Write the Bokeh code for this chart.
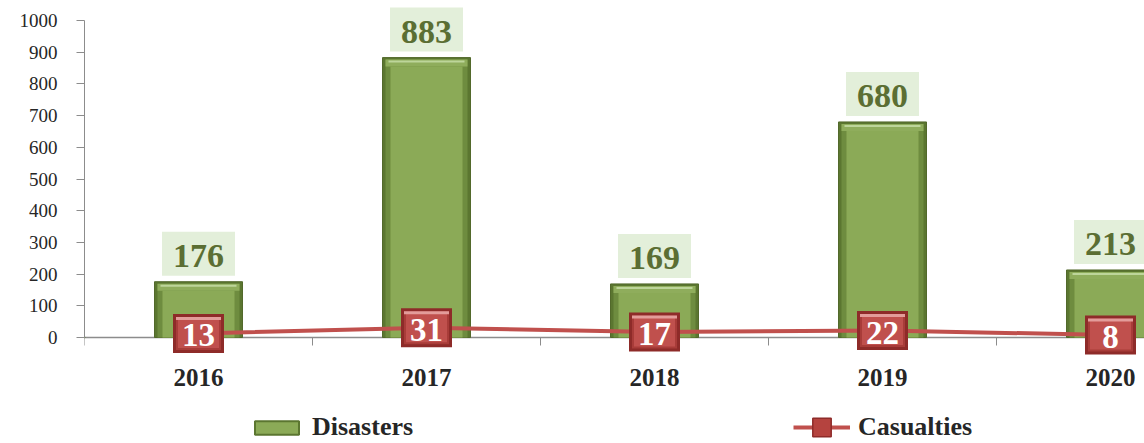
from bokeh.plotting import figure
from bokeh.models import Range1d, FixedTicker, Legend, LegendItem
from bokeh.core.properties import value
from bokeh.embed import file_html
from bokeh.resources import INLINE

# ---- data ----
categories = ["2016", "2017", "2018", "2019", "2020"]
disasters = [176, 883, 169, 680, 213]
casualties = [13, 31, 17, 22, 8]
y_ticks = [0, 100, 200, 300, 400, 500, 600, 700, 800, 900, 1000]
series_names = ["Disasters", "Casualties"]

# ---- geometry (styling) ----
W, H = 1144, 443
LEFT = 84
ZERO_PX = 337          # figure-y of value 0
PX_PER_UNIT = 0.317    # pixels per y unit
CAT_PX = 228           # pixels per category

y_end = ZERO_PX / PX_PER_UNIT
y_start = -(H - ZERO_PX) / PX_PER_UNIT
x_end = (W - LEFT) / CAT_PX


def py(px):
    return px / PX_PER_UNIT


def pxx(px):
    return px / CAT_PX


FONT_NAME = "'Liberation Serif', 'Times New Roman', serif"
FONT = value(FONT_NAME)
xs = [i + 0.5 for i in range(len(categories))]

p = figure(width=W, height=H, x_range=Range1d(0, x_end), y_range=Range1d(y_start, y_end),
           output_backend="svg", toolbar_location=None,
           min_border_left=LEFT, min_border_right=0, min_border_top=0, min_border_bottom=0)
p.outline_line_color = None
p.grid.visible = False
p.background_fill_color = "white"
p.border_fill_color = "white"

# ---- bars with bevel ----
bw = pxx(88)
p.vbar(x=xs, top=disasters, bottom=0, width=bw, fill_color="#5B7630", line_color="#52692B")
p.vbar(x=xs, top=[v - py(2) for v in disasters], bottom=0, width=bw - 2 * pxx(3),
       fill_color="#6E8C3F", line_color=None)
p.vbar(x=xs, top=[v - py(2) for v in disasters], bottom=[v - py(9) for v in disasters],
       width=bw - 2 * pxx(3), fill_color="#8FAD5C", line_color=None)
p.vbar(x=xs, top=[v - py(3) for v in disasters], bottom=[v - py(5) for v in disasters],
       width=bw - 2 * pxx(6), fill_color="#BDD59A", line_color=None)
p.vbar(x=xs, top=[v - py(9) for v in disasters], bottom=0, width=bw - 2 * pxx(8),
       fill_color="#8BAA57", line_color=None)

# ---- bar labels ----
lab_y = [v + py(28) for v in disasters]
p.rect(x=xs, y=lab_y, width=73, height=44, width_units="screen", height_units="screen",
       fill_color="#E3EFDA", line_color=None)
p.text(x=xs, y=lab_y, text=[str(v) for v in disasters], text_align="center",
       text_baseline="middle", y_offset=2, text_font=FONT, text_font_style="bold",
       text_font_size="34px", text_color="#5B6E33")

# ---- casualties line & markers ----
p.line(xs, casualties, line_color="#C0504D", line_width=4)
p.rect(x=xs, y=casualties, width=51, height=39, width_units="screen", height_units="screen",
       fill_color="#8E2B29", line_color=None)
p.rect(x=xs, y=casualties, width=45, height=33, width_units="screen", height_units="screen",
       fill_color="#A83C39", line_color=None)
p.rect(x=xs, y=casualties, width=41, height=29, width_units="screen", height_units="screen",
       fill_color="#C0504D", line_color=None)
p.rect(x=xs, y=[c + py(15) for c in casualties], width=45, height=3, width_units="screen",
       height_units="screen", fill_color="#E39C9A", line_color=None)
p.text(x=xs, y=casualties, text=[str(c) for c in casualties], text_align="center",
       text_baseline="middle", y_offset=2, text_font=FONT, text_font_style="bold",
       text_font_size="33px", text_color="white")

# ---- legends (dummy renderers outside visible range) ----
leg_bar = p.vbar(x=[-5], top=[1], width=0.3, fill_color="#8BAA57", line_color="#5B7630", line_width=2)
leg_line = p.line([-5, -4], [1, 1], line_color="#C0504D", line_width=4)
leg_sq = p.scatter([-5], [1], marker="square", size=19, fill_color="#B5433F",
                   line_color="#8E2B29", line_width=1.5)

common = dict(orientation="horizontal", label_standoff=8, margin=0, padding=0,
              border_line_color=None, background_fill_alpha=0,
              label_text_font=FONT_NAME, label_text_font_style="bold",
              label_text_font_size="26px", label_text_color="#262626")
legend1 = Legend(items=[LegendItem(label=series_names[0], renderers=[leg_bar])],
                 location=(165, 1), glyph_width=55, glyph_height=17, **common)
legend2 = Legend(items=[LegendItem(label=series_names[1], renderers=[leg_line, leg_sq])],
                 location=(709, -7), glyph_width=57, glyph_height=46, **common)
p.add_layout(legend1)
p.add_layout(legend2)

# ---- axes ----
ax_col = "#8C8C8C"
p.yaxis.ticker = FixedTicker(ticks=y_ticks)
p.yaxis.bounds = (0, 1000)
p.yaxis.axis_line_color = ax_col
p.yaxis.major_tick_line_color = ax_col
p.yaxis.major_tick_out = 8
p.yaxis.major_tick_in = 0
p.yaxis.minor_tick_line_color = None
p.yaxis.major_label_text_font = FONT_NAME
p.yaxis.major_label_text_font_size = "19px"
p.yaxis.major_label_text_color = "#262626"
p.yaxis.major_label_standoff = 19

p.xaxis.ticker = FixedTicker(ticks=xs, minor_ticks=list(range(len(categories) + 1)))
p.xaxis.major_label_overrides = {x: c for x, c in zip(xs, categories)}
p.xaxis.fixed_location = 0
p.xaxis.level = "underlay"
p.xaxis.axis_line_color = ax_col
p.xaxis.axis_line_width = 1.5
p.xaxis.major_tick_out = 0
p.xaxis.major_tick_in = 0
p.xaxis.minor_tick_out = 8
p.xaxis.minor_tick_in = 0
p.xaxis.minor_tick_line_color = ax_col
p.xaxis.major_label_text_font = FONT_NAME
p.xaxis.major_label_text_font_style = "bold"
p.xaxis.major_label_text_font_size = "25px"
p.xaxis.major_label_text_color = "#262626"
p.xaxis.major_label_standoff = 23

open("out.html", "w").write(file_html(p, INLINE))
